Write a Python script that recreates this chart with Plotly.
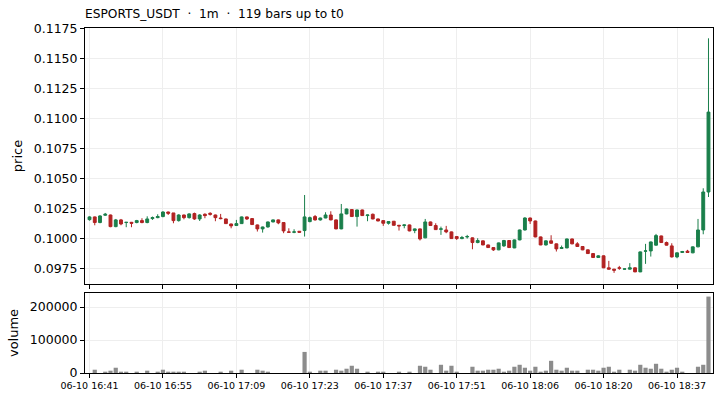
import plotly.graph_objects as go
from plotly.subplots import make_subplots

opens = [0.10155, 0.10178, 0.10131, 0.10192, 0.10194, 0.10097, 0.10153, 0.10131, 0.10133, 0.10131,
         0.10147, 0.10131, 0.10164, 0.10172, 0.10181, 0.10219, 0.10211, 0.10147, 0.10194, 0.10172,
         0.10206, 0.10161, 0.10200, 0.10208, 0.10194, 0.10169, 0.10161, 0.10119, 0.10106, 0.10122,
         0.10178, 0.10164, 0.10111, 0.10078, 0.10094, 0.10136, 0.10153, 0.10131, 0.10053, 0.10050,
         0.10058, 0.10064, 0.10139, 0.10181, 0.10153, 0.10169, 0.10194, 0.10153, 0.10078, 0.10203,
         0.10239, 0.10181, 0.10236, 0.10189, 0.10200, 0.10161, 0.10147, 0.10125, 0.10142, 0.10108,
         0.10106, 0.10111, 0.10064, 0.10078, 0.10003, 0.10136, 0.10106, 0.10075, 0.10069, 0.10053,
         0.10014, 0.09997, 0.10011, 0.10003, 0.09964, 0.09978, 0.09944, 0.09922, 0.09903, 0.09936,
         0.09981, 0.09919, 0.09986, 0.10069, 0.10169, 0.10144, 0.10011, 0.09944, 0.09978, 0.09953,
         0.09914, 0.09919, 0.09994, 0.09953, 0.09931, 0.09903, 0.09872, 0.09839, 0.09853, 0.09753,
         0.09742, 0.09753, 0.09742, 0.09742, 0.09753, 0.09719, 0.09892, 0.09894, 0.09942, 0.10019,
         0.09964, 0.09936, 0.09844, 0.09881, 0.09892, 0.09878, 0.09928, 0.10069, 0.10386]
highs = [0.10183, 0.10181, 0.10192, 0.10211, 0.10197, 0.10161, 0.10161, 0.10136, 0.10136, 0.10153,
         0.10167, 0.10183, 0.10181, 0.10200, 0.10225, 0.10222, 0.10211, 0.10200, 0.10197, 0.10208,
         0.10214, 0.10200, 0.10208, 0.10217, 0.10197, 0.10203, 0.10164, 0.10122, 0.10153, 0.10181,
         0.10181, 0.10167, 0.10114, 0.10097, 0.10139, 0.10156, 0.10156, 0.10133, 0.10083, 0.10075,
         0.10058, 0.10361, 0.10181, 0.10194, 0.10172, 0.10217, 0.10225, 0.10156, 0.10286, 0.10247,
         0.10242, 0.10239, 0.10239, 0.10197, 0.10206, 0.10164, 0.10150, 0.10142, 0.10144, 0.10111,
         0.10114, 0.10114, 0.10081, 0.10081, 0.10161, 0.10139, 0.10125, 0.10097, 0.10103, 0.10056,
         0.10017, 0.10019, 0.10028, 0.10006, 0.10000, 0.09981, 0.09947, 0.09925, 0.09964, 0.09986,
         0.09983, 0.09989, 0.10072, 0.10175, 0.10172, 0.10147, 0.10014, 0.09981, 0.10025, 0.09956,
         0.09939, 0.09997, 0.09997, 0.09967, 0.09933, 0.09906, 0.09875, 0.09858, 0.09856, 0.09811,
         0.09744, 0.09769, 0.09747, 0.09792, 0.09756, 0.09889, 0.09953, 0.09972, 0.10036, 0.10022,
         0.09972, 0.09958, 0.09881, 0.09894, 0.09903, 0.09931, 0.10161, 0.10417, 0.11669]
lows = [0.10147, 0.10108, 0.10125, 0.10186, 0.10092, 0.10092, 0.10108, 0.10092, 0.10092, 0.10125,
        0.10125, 0.10125, 0.10153, 0.10167, 0.10175, 0.10194, 0.10125, 0.10139, 0.10158, 0.10164,
        0.10153, 0.10144, 0.10167, 0.10189, 0.10142, 0.10158, 0.10119, 0.10083, 0.10103, 0.10119,
        0.10153, 0.10111, 0.10056, 0.10047, 0.10089, 0.10133, 0.10117, 0.10042, 0.10047, 0.10042,
        0.10047, 0.10014, 0.10133, 0.10147, 0.10147, 0.10167, 0.10150, 0.10075, 0.10075, 0.10200,
        0.10178, 0.10097, 0.10186, 0.10142, 0.10158, 0.10142, 0.10103, 0.10114, 0.10106, 0.10064,
        0.10083, 0.10058, 0.10042, 0.09981, 0.10000, 0.10103, 0.10069, 0.10028, 0.10042, 0.09994,
        0.09986, 0.09992, 0.09997, 0.09908, 0.09958, 0.09942, 0.09919, 0.09894, 0.09900, 0.09928,
        0.09919, 0.09917, 0.09983, 0.10064, 0.10119, 0.10008, 0.09942, 0.09939, 0.09953, 0.09889,
        0.09911, 0.09917, 0.09950, 0.09928, 0.09900, 0.09869, 0.09836, 0.09836, 0.09750, 0.09739,
        0.09711, 0.09736, 0.09739, 0.09739, 0.09717, 0.09717, 0.09786, 0.09847, 0.09939, 0.09961,
        0.09939, 0.09839, 0.09833, 0.09878, 0.09878, 0.09875, 0.09925, 0.10033, 0.10344]
closes = [0.10178, 0.10131, 0.10186, 0.10200, 0.10097, 0.10153, 0.10119, 0.10133, 0.10125, 0.10147,
          0.10131, 0.10161, 0.10172, 0.10181, 0.10219, 0.10208, 0.10147, 0.10194, 0.10172, 0.10203,
          0.10161, 0.10194, 0.10189, 0.10200, 0.10172, 0.10164, 0.10122, 0.10103, 0.10122, 0.10178,
          0.10161, 0.10114, 0.10078, 0.10094, 0.10136, 0.10153, 0.10128, 0.10061, 0.10050, 0.10053,
          0.10050, 0.10178, 0.10172, 0.10153, 0.10169, 0.10194, 0.10153, 0.10078, 0.10203, 0.10244,
          0.10181, 0.10236, 0.10189, 0.10194, 0.10161, 0.10144, 0.10125, 0.10139, 0.10108, 0.10103,
          0.10111, 0.10061, 0.10078, 0.09994, 0.10136, 0.10106, 0.10072, 0.10078, 0.10053, 0.09997,
          0.09997, 0.10006, 0.10014, 0.09964, 0.09981, 0.09944, 0.09922, 0.09903, 0.09961, 0.09981,
          0.09922, 0.09986, 0.10069, 0.10169, 0.10144, 0.10011, 0.09944, 0.09978, 0.09958, 0.09911,
          0.09922, 0.09994, 0.09953, 0.09931, 0.09903, 0.09872, 0.09839, 0.09853, 0.09753, 0.09742,
          0.09733, 0.09750, 0.09744, 0.09753, 0.09719, 0.09886, 0.09894, 0.09969, 0.10022, 0.09964,
          0.09942, 0.09844, 0.09878, 0.09889, 0.09881, 0.09928, 0.10069, 0.10386, 0.11053]

volumes = [0, 10000, 0, 4000, 7000, 16000, 4000, 4000, 0, 4000,
           0, 7000, 0, 4000, 10000, 4000, 4000, 4000, 4000, 0,
           0, 4000, 7000, 0, 0, 4000, 0, 7000, 0, 10000,
           0, 0, 10000, 7000, 4000, 0, 0, 0, 0, 0,
           0, 64000, 4000, 0, 7000, 7000, 0, 10000, 7000, 13000,
           22000, 13000, 0, 4000, 0, 4000, 4000, 0, 0, 4000,
           0, 4000, 0, 22000, 19000, 10000, 0, 25000, 7000, 22000,
           4000, 0, 0, 19000, 7000, 7000, 10000, 10000, 13000, 4000,
           7000, 19000, 25000, 16000, 7000, 19000, 4000, 7000, 37000, 10000,
           7000, 16000, 7000, 7000, 0, 10000, 10000, 7000, 16000, 19000,
           4000, 10000, 0, 10000, 7000, 25000, 16000, 13000, 28000, 13000,
           4000, 10000, 16000, 4000, 0, 0, 19000, 25000, 232000]

tick_labels = ["06-10 16:41", "06-10 16:55", "06-10 17:09", "06-10 17:23", "06-10 17:37",
               "06-10 17:51", "06-10 18:06", "06-10 18:20", "06-10 18:37"]
tick_step = 14

bar_index = list(range(len(opens)))
tick_positions = [i * tick_step for i in range(len(tick_labels))]

UP = "#1a7f4b"
DOWN = "#b22222"
FONT = "DejaVu Sans"
XRANGE = [-0.86, len(opens) - 0.14]

fig = make_subplots(rows=2, cols=1, shared_xaxes=False, vertical_spacing=0.026,
                    row_heights=[0.742, 0.232])

fig.add_trace(go.Candlestick(
    x=bar_index, open=opens, high=highs, low=lows, close=closes,
    increasing=dict(line=dict(color=UP, width=1), fillcolor=UP),
    decreasing=dict(line=dict(color=DOWN, width=1), fillcolor=DOWN),
    whiskerwidth=0, showlegend=False, hoverinfo="skip"), row=1, col=1)

fig.add_trace(go.Bar(x=bar_index, y=volumes, marker=dict(color="#8c8c8c", line=dict(width=0)),
                     width=0.8, showlegend=False, hoverinfo="skip"), row=2, col=1)

axis_common = dict(showline=True, linecolor="black", linewidth=1, mirror=True,
                   ticks="outside", ticklen=4, tickcolor="black", automargin=False,
                   showgrid=True, gridcolor="#eeeeee", gridwidth=1, zeroline=False,
                   tickfont=dict(family=FONT, size=12.5, color="black"))

fig.update_xaxes(**axis_common)
fig.update_yaxes(**axis_common)

fig.update_xaxes(range=XRANGE, autorange=False, tickmode="array", tickvals=tick_positions,
                 ticktext=tick_labels, rangeslider=dict(visible=False), row=1, col=1,
                 showticklabels=False)
fig.update_xaxes(range=XRANGE, autorange=False, tickmode="array", tickvals=tick_positions,
                 ticktext=tick_labels, tickfont=dict(family=FONT, size=9.5, color="black"),
                 row=2, col=1)

fig.update_yaxes(range=[0.09618, 0.11755], autorange=False, tickmode="array",
                 tickvals=[0.0975, 0.1000, 0.1025, 0.1050, 0.1075, 0.1100, 0.1125, 0.1150, 0.1175],
                 tickformat=".4f",
                 title=dict(text="price", font=dict(family=FONT, size=13, color="black"), standoff=8),
                 row=1, col=1)
fig.update_yaxes(range=[0, 243000], autorange=False, tickmode="array", tickvals=[0, 100000, 200000],
                 tickformat="d",
                 title=dict(text="volume", font=dict(family=FONT, size=13, color="black"), standoff=8),
                 row=2, col=1)

fig.update_layout(
    width=721, height=400,
    margin=dict(l=85, r=8, t=28, b=27),
    paper_bgcolor="white", plot_bgcolor="white",
    boxgap=0.22,
    bargap=0.2,
    title=dict(text="ESPORTS_USDT  ·  1m  ·  119 bars up to t0",
               font=dict(family=FONT, size=12.2, color="black"),
               x=85 / 721, xanchor="left", y=1 - 14 / 400, yanchor="middle"),
    showlegend=False,
)

fig.write_html("out.html", config={"displayModeBar": False},
               post_script="document.body.style.margin='0';document.body.style.overflow='hidden';")
